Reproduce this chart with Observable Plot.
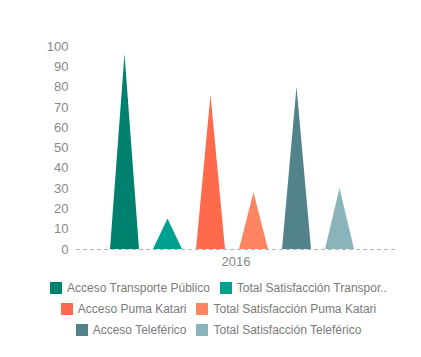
<!DOCTYPE html>
<html><head><meta charset="utf-8">
<script src="https://cdn.jsdelivr.net/npm/d3@7"></script>
<script src="https://cdn.jsdelivr.net/npm/@observablehq/plot@0.6"></script>
<style>
body{margin:0;background:#fff;font-family:"Liberation Sans",Arial,sans-serif;}
#legend{width:421px;padding-left:16px;box-sizing:border-box;margin-top:5px;}
.row{display:flex;justify-content:center;height:21px;align-items:center;}
.item{display:flex;align-items:center;margin:0 5px;font-size:12px;color:#7a7a7a;white-space:nowrap;}
.sw{width:12px;height:12px;margin-right:5px;}
</style></head>
<body>
<div id="chart"></div>
<div id="legend"></div>
<script>
const year = "2016";
const series = ["Acceso Transporte Público","Total Satisfacción Transporte Público","Acceso Puma Katari","Total Satisfacción Puma Katari","Acceso Teleférico","Total Satisfacción Teleférico"];
const legendLabels = ["Acceso Transporte Público","Total Satisfacción Transpor..","Acceso Puma Katari","Total Satisfacción Puma Katari","Acceso Teleférico","Total Satisfacción Teleférico"];
const values = [96, 15, 76, 28, 80, 30];
const colors = ["#00806f","#00a091","#ff6a4c","#ff8462","#52838a","#88b4ba"];
const yTicks = [0,10,20,30,40,50,60,70,80,90,100];

const data = series.map((s, i) => ({year, series: s, value: values[i]}));

function triangles(index, scales, vals) {
  const g = d3.create("svg:g");
  const bw = scales.x.bandwidth();
  for (const i of index) {
    const x0 = vals.x[i];
    const yb = Math.max(vals.y1[i], vals.y2[i]);
    const yt = Math.min(vals.y1[i], vals.y2[i]);
    g.append("polygon")
      .attr("points", `${x0},${yb} ${x0 + bw / 2},${yt} ${x0 + bw},${yb}`)
      .attr("fill", vals.fill[i]);
  }
  return g.node();
}

const chart = Plot.plot({
  width: 421, height: 272,
  marginTop: 46, marginBottom: 23, marginLeft: 76, marginRight: 26,
  style: {fontFamily: "'Liberation Sans', Arial, sans-serif", fontSize: "13px", color: "#888", background: "#fff"},
  y: {domain: [0, 100], ticks: yTicks, tickSize: 0, tickPadding: 8, label: null},
  fx: {domain: [year], padding: 0, label: null, tickSize: 0, tickPadding: 7, axis: "bottom"},
  x: {domain: series, axis: null, paddingInner: 0.33, paddingOuter: 0.87, align: 0.45},
  color: {domain: series, range: colors},
  marks: [
    Plot.ruleY([0], {stroke: "#b5b5b5", strokeDasharray: "4,3"}),
    Plot.barY(data, {fx: "year", x: "series", y: "value", fill: "series", render: triangles})
  ]
});
document.getElementById("chart").appendChild(chart);

const rows = [[0,1],[2,3],[4,5]];
const leg = document.getElementById("legend");
rows.forEach(r => {
  const row = document.createElement("div"); row.className = "row";
  r.forEach(i => {
    const it = document.createElement("div"); it.className = "item";
    const sw = document.createElement("span"); sw.className = "sw"; sw.style.background = colors[i];
    it.appendChild(sw);
    it.appendChild(document.createTextNode(legendLabels[i]));
    row.appendChild(it);
  });
  leg.appendChild(row);
});
</script>
</body></html>
